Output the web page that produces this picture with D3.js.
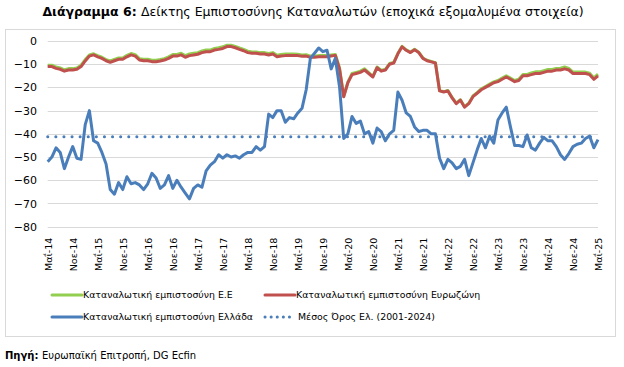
<!DOCTYPE html>
<html>
<head>
<meta charset="utf-8">
<script src="https://cdn.jsdelivr.net/npm/d3@7"></script>
<style>
  body { margin: 0; background: #fff; }
  svg { display: block; font-family: "DejaVu Sans", sans-serif; }
</style>
</head>
<body>
<svg id="chart"></svg>
<script>
// monthly values, May 2014 .. May 2025
var euConf = [
  -10.4, -10.4, -11.2, -11.6, -12.4, -11.9, -11.9, -11.6, -10.4, -8, -6, -5.5,
  -6.3, -7, -8, -8.6, -7.9, -7.3, -7.3, -6.2, -5.4, -5.9, -7.6, -7.9,
  -7.9, -8.3, -8.3, -8, -7.6, -6.8, -5.8, -5.8, -5.3, -6.3, -5.6, -5.3,
  -5, -4.3, -3.9, -3.9, -3.2, -2.9, -2.5, -1.8, -1.8, -2.3, -3, -3.6,
  -4.4, -4.7, -4.7, -5, -5, -5.4, -5, -6.1, -5.8, -5.6, -5.6, -5.6,
  -5.7, -6, -5.9, -6.5, -6.5, -6.3, -6.3, -6.3, -6, -5.8, -11.6, -23.8,
  -17.7, -14, -13.5, -13, -12, -13.6, -15.2, -11.2, -12.7, -12.2, -9.7, -9.2,
  -5.3, -2.3, -3.8, -4.8, -3.6, -4.8, -7.3, -8.3, -8.8, -9.3, -21.3, -21.8,
  -21.3, -24.3, -26.8, -25.3, -28.3, -26.8, -23.7, -22.2, -20.6, -19.6, -18.6, -17.6,
  -17, -16, -15, -16, -17, -16.5, -14.4, -14.4, -13.8, -13.3, -13.3, -12.8,
  -12.3, -12.3, -11.8, -11.7, -11.2, -11.8, -13.4, -13.4, -13.4, -13.4, -13.9, -15.9, -14.3
];
var eaConf = [
  -11, -11, -11.8, -12.2, -13, -12.5, -12.5, -12.2, -11, -8.6, -6.5, -6,
  -6.8, -7.5, -8.5, -9.2, -8.5, -7.9, -7.9, -6.8, -6, -6.5, -8.2, -8.5,
  -8.5, -8.9, -8.9, -8.6, -8.2, -7.5, -6.5, -6.5, -6, -7, -6.3, -6,
  -5.7, -5, -4.6, -4.6, -3.9, -3.6, -3.2, -2.4, -2.4, -2.9, -3.6, -4.2,
  -5, -5.3, -5.3, -5.6, -5.6, -6, -5.6, -6.8, -6.5, -6.3, -6.3, -6.3,
  -6.3, -6.6, -6.5, -7, -7, -6.8, -6.8, -6.8, -6.5, -6.2, -12, -24,
  -18, -14.5, -14, -13.5, -12.5, -14, -15.5, -11.5, -13, -12.5, -10, -9.5,
  -5.5, -2.5, -4, -5, -3.8, -5, -7.5, -8.5, -9, -9.5, -21.5, -22,
  -21.5, -24.5, -27, -25.5, -28.5, -27, -24, -22.5, -21, -20, -19, -18,
  -17.5, -16.5, -15.5, -16.5, -17.5, -17, -15, -15, -14.5, -14, -14, -13.5,
  -13, -13, -12.5, -12.5, -12, -12.5, -14, -14, -14, -14, -14.5, -16.5, -15
];
var grConf = [
  -52, -50, -46, -48, -55, -50, -45.5, -50.5, -51, -36, -30, -43,
  -44, -48, -53, -64, -66, -61, -64, -58.5, -61.5, -61, -62, -64,
  -61.5, -57, -59, -63.5, -62, -58, -63.5, -60, -63, -65.5, -68, -63.5,
  -62, -63, -56, -53.5, -52, -49, -50.5, -49, -50, -49.5, -50.5, -49,
  -48, -48, -45.5, -47, -45.5, -31.5, -33, -30, -30, -35, -33, -33.5,
  -31, -29, -21, -7.5, -5.3, -3, -4.6, -4, -12, -7.5, -19.7, -42,
  -40, -32.5, -35.5, -34.5, -40, -39, -44, -37.5, -39, -43, -40, -38.5,
  -22, -25.5, -31, -32.5, -37, -39, -38.5, -38.5, -40, -40, -50.5, -55,
  -51, -52.5, -55, -54, -51, -58, -52.5, -47, -42, -46, -41, -44,
  -34, -31, -28.5, -37, -45, -45, -45.5, -40.5, -46, -47, -44, -41.5,
  -43, -43, -45.5, -49, -51, -48.5, -45.5, -44.5, -44, -42, -41, -46, -42.5
];
var grAverage = -41.3;

var xTickLabels = ['Μαΐ-14', 'Νοε-14', 'Μαΐ-15', 'Νοε-15', 'Μαΐ-16', 'Νοε-16', 'Μαΐ-17', 'Νοε-17',
  'Μαΐ-18', 'Νοε-18', 'Μαΐ-19', 'Νοε-19', 'Μαΐ-20', 'Νοε-20', 'Μαΐ-21', 'Νοε-21',
  'Μαΐ-22', 'Νοε-22', 'Μαΐ-23', 'Νοε-23', 'Μαΐ-24', 'Νοε-24', 'Μαΐ-25'];
var yTicks = [0, -10, -20, -30, -40, -50, -60, -70, -80];

var seriesNames = ['Καταναλωτική εμπιστοσύνη Ε.Ε', 'Καταναλωτική εμπιστοσύνη Ευρωζώνη',
  'Καταναλωτική εμπιστοσύνη Ελλάδα', 'Μέσος Όρος Ελ. (2001-2024)'];

var width = 624, height = 367;
var green = '#92cf50', red = '#c0504d', blue = '#4a7ebb';

var svg = d3.select('#chart')
  .attr('width', width)
  .attr('height', height);

// title
var title = svg.append('text')
  .attr('x', 313)
  .attr('y', 16)
  .attr('text-anchor', 'middle')
  .attr('font-size', '12.5px')
  .attr('fill', '#000');
title.append('tspan').attr('font-weight', 'bold').text('Διάγραμμα 6: ');
title.append('tspan').text('Δείκτης Εμπιστοσύνης Καταναλωτών (εποχικά εξομαλυμένα στοιχεία)');

// chart frame
svg.append('rect')
  .attr('x', 5.5).attr('y', 29.5)
  .attr('width', 610).attr('height', 307)
  .attr('fill', 'none')
  .attr('stroke', '#d9d9d9');

var x = d3.scaleLinear().domain([0, eaConf.length - 1]).range([47.7, 598]);
var y = d3.scaleLinear().domain([-80, 0]).range([226.7, 41]);

// gridlines
svg.append('g')
  .selectAll('line')
  .data(yTicks).enter()
  .append('line')
    .attr('x1', x(0)).attr('x2', x(eaConf.length - 1))
    .attr('y1', function(d) { return Math.round(y(d)) + 0.5; })
    .attr('y2', function(d) { return Math.round(y(d)) + 0.5; })
    .attr('stroke', '#d9d9d9');

// y axis labels
var yAxis = d3.axisLeft(y).tickValues(yTicks).tickSize(0).tickPadding(0);
var gy = svg.append('g')
  .attr('transform', 'translate(37,0)')
  .call(yAxis);
gy.select('.domain').remove();
gy.selectAll('text').attr('font-size', '11px').attr('fill', '#000')
  .attr('font-family', '"DejaVu Sans", sans-serif');

// x axis labels, every 6 months
var xAxis = d3.axisBottom(x)
  .tickValues(d3.range(0, eaConf.length, 6))
  .tickFormat(function(d, i) { return xTickLabels[i]; })
  .tickSize(0);
var gx = svg.append('g')
  .attr('transform', 'translate(0,' + y(-80) + ')')
  .call(xAxis);
gx.select('.domain').remove();
gx.selectAll('text')
  .attr('font-size', '9.5px')
  .attr('fill', '#000')
  .attr('font-family', '"DejaVu Sans", sans-serif')
  .attr('text-anchor', 'end')
  .attr('transform', 'translate(0,11) rotate(-90)')
  .attr('x', 0).attr('y', 0).attr('dy', '0.35em');

// average line
svg.append('line')
  .attr('x1', x(0)).attr('x2', x(eaConf.length - 1))
  .attr('y1', y(grAverage)).attr('y2', y(grAverage))
  .attr('stroke', blue)
  .attr('stroke-width', 3)
  .attr('stroke-linecap', 'round')
  .attr('stroke-dasharray', '0.1 8');

var line = d3.line()
  .x(function(d, i) { return x(i); })
  .y(function(d) { return y(d); });

[[euConf, green], [eaConf, red], [grConf, blue]].forEach(function(s) {
  svg.append('path')
    .datum(s[0])
    .attr('d', line)
    .attr('fill', 'none')
    .attr('stroke', s[1])
    .attr('stroke-width', 3)
    .attr('stroke-linejoin', 'round');
});

// legend
var legend = [
  { name: seriesNames[0], color: green, x: 52, y: 295, dotted: false },
  { name: seriesNames[1], color: red, x: 265, y: 295, dotted: false },
  { name: seriesNames[2], color: blue, x: 52, y: 317, dotted: false },
  { name: seriesNames[3], color: blue, x: 265, y: 317, dotted: true }
];
var lg = svg.append('g').selectAll('g').data(legend).enter().append('g');
lg.append('line')
  .attr('x1', function(d) { return d.x; })
  .attr('x2', function(d) { return d.dotted ? d.x + 25 : d.x + 30; })
  .attr('y1', function(d) { return d.y; })
  .attr('y2', function(d) { return d.y; })
  .attr('stroke', function(d) { return d.color; })
  .attr('stroke-width', 3)
  .attr('stroke-linecap', 'round')
  .attr('stroke-dasharray', function(d) { return d.dotted ? '0.1 6' : null; });
lg.append('text')
  .attr('x', function(d) { return d.dotted ? d.x + 33 : d.x + 31; })
  .attr('y', function(d) { return d.y; })
  .attr('dy', '0.35em')
  .attr('font-size', '9.4px')
  .attr('fill', '#000')
  .text(function(d) { return d.name; });

// source
var src = svg.append('text')
  .attr('x', 5)
  .attr('y', 359)
  .attr('font-size', '10px')
  .attr('fill', '#000');
src.append('tspan').attr('font-weight', 'bold').text('Πηγή: ');
src.append('tspan').text('Ευρωπαϊκή Επιτροπή, DG Ecfin');
</script>
</body>
</html>
